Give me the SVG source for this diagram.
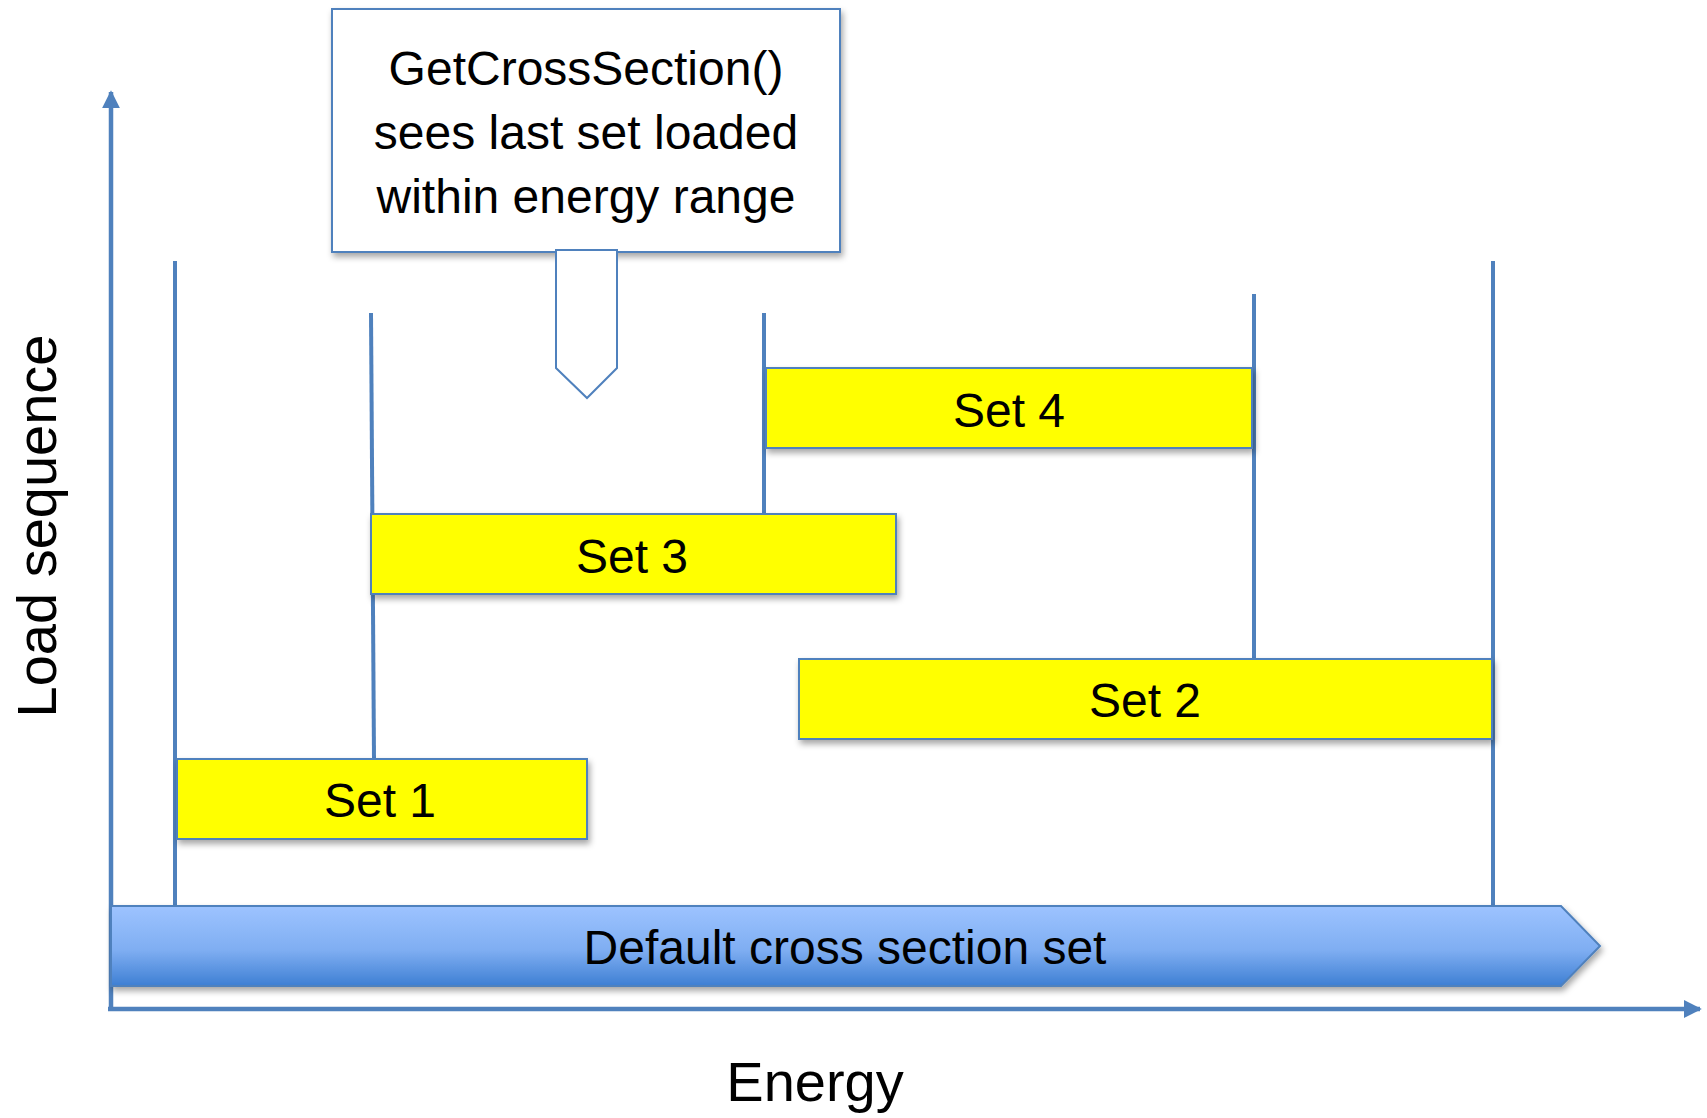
<svg xmlns="http://www.w3.org/2000/svg" width="1707" height="1118" viewBox="0 0 1707 1118">
<style>
  .ln { stroke: #4F81BD; stroke-width: 4; fill: none; }
  .axis { stroke: #4F81BD; stroke-width: 4.5; fill: none; }
  .set { fill: #FFFF00; stroke: #4F81BD; stroke-width: 2; filter: url(#sh); }
  .lbl { font-family: "Liberation Sans", Arial, sans-serif; fill: #000; text-anchor: middle; }
  .t48 { font-size: 48px; }
  .t56 { font-size: 56px; }
</style>
<defs>
  <filter id="sh" x="-10%" y="-20%" width="130%" height="160%">
    <feDropShadow dx="2" dy="4" stdDeviation="3" flood-color="#000" flood-opacity="0.35"/>
  </filter>
  <linearGradient id="bar" x1="0" y1="0" x2="0" y2="1">
    <stop offset="0" stop-color="#9DC3FF"/>
    <stop offset="0.55" stop-color="#7FAEF2"/>
    <stop offset="1" stop-color="#3E7FD3"/>
  </linearGradient>
  <marker id="ah" viewBox="0 0 10 10" refX="9" refY="5" markerWidth="4" markerHeight="4" orient="auto" markerUnits="strokeWidth">
    <path d="M0,0 L10,5 L0,10 Z" fill="#4F81BD"/>
  </marker>
</defs>

<g id="connectors">
  <line class="axis" x1="111" y1="1009" x2="111" y2="92" marker-end="url(#ah)"/>
  <line class="axis" x1="108" y1="1009" x2="1700" y2="1009" marker-end="url(#ah)"/>
  <line class="ln" x1="175" y1="261" x2="175" y2="906"/>
  <line class="ln" x1="371" y1="313" x2="374" y2="759"/>
  <line class="ln" x1="764" y1="313" x2="764" y2="514"/>
  <line class="ln" x1="1254" y1="294" x2="1254" y2="659"/>
  <line class="ln" x1="1493" y1="261" x2="1493" y2="906"/>
</g>

<g id="default-set">
  <path d="M111,906 L1561,906 L1600,946 L1561,986 L111,986 Z" fill="url(#bar)" stroke="#4F81BD" stroke-width="2" filter="url(#sh)"/>
  <text class="lbl t48" x="845" y="964">Default cross section set</text>
</g>

<g id="set1">
  <rect class="set" x="177" y="759" width="410" height="80"/>
  <text class="lbl t48" x="380" y="817">Set 1</text>
</g>

<g id="set2">
  <rect class="set" x="799" y="659" width="693" height="80"/>
  <text class="lbl t48" x="1145" y="717">Set 2</text>
</g>

<g id="set3">
  <rect class="set" x="371" y="514" width="525" height="80"/>
  <text class="lbl t48" x="632" y="573">Set 3</text>
</g>

<g id="set4">
  <rect class="set" x="766" y="368" width="486" height="80"/>
  <text class="lbl t48" x="1009" y="427">Set 4</text>
</g>

<g id="callout">
  <rect x="332" y="9" width="508" height="243" fill="#FFFFFF" stroke="#4F81BD" stroke-width="2" filter="url(#sh)"/>
  <path d="M556,250 L617,250 L617,368 L587,398 L556,368 Z" fill="#FFFFFF" stroke="#4F81BD" stroke-width="2"/>
  <text class="lbl t48" x="586" y="85">GetCrossSection()</text>
  <text class="lbl t48" x="586" y="149">sees last set loaded</text>
  <text class="lbl t48" x="586" y="213">within energy range</text>
</g>

<g id="axis-labels">
  <text class="lbl t56" transform="translate(56,526) rotate(-90)">Load sequence</text>
  <text class="lbl t56" x="815" y="1101">Energy</text>
</g>
</svg>
